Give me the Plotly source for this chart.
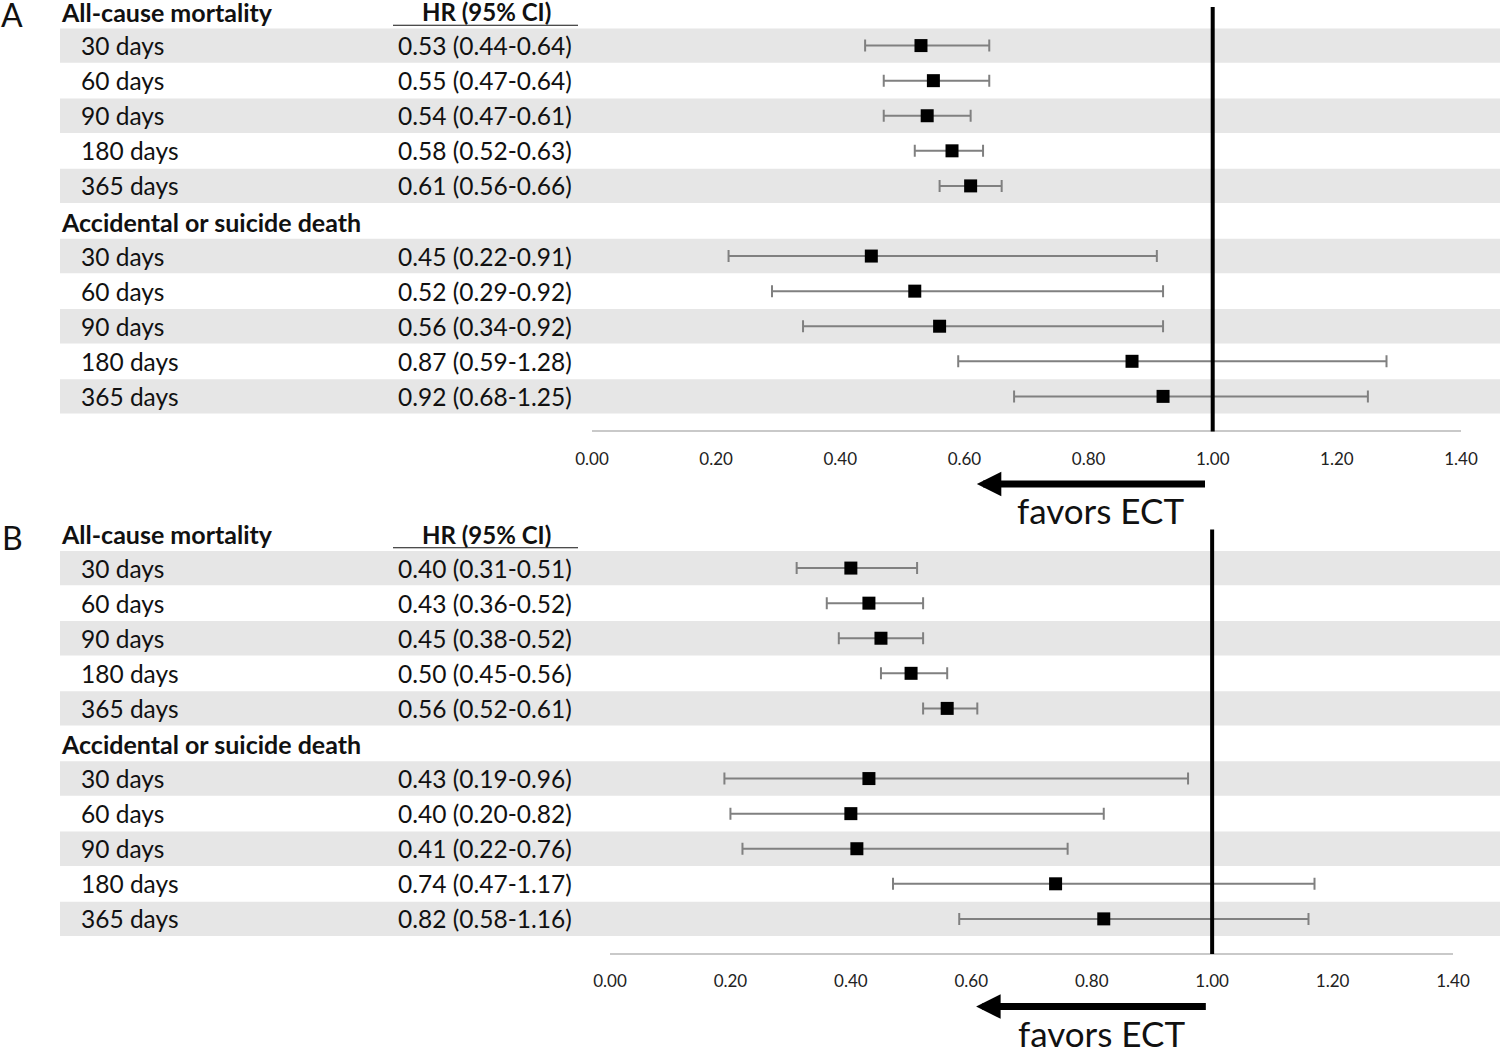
import plotly.graph_objects as go

# ---------------- data ----------------
periods = ["30 days", "60 days", "90 days", "180 days", "365 days"]
groups = ["All-cause mortality", "Accidental or suicide death"]
x_ticks = [0.0, 0.2, 0.4, 0.6, 0.8, 1.0, 1.2, 1.4]

a_allcause_hr = [0.53, 0.55, 0.54, 0.58, 0.61]
a_allcause_lo = [0.44, 0.47, 0.47, 0.52, 0.56]
a_allcause_hi = [0.64, 0.64, 0.61, 0.63, 0.66]
a_accident_hr = [0.45, 0.52, 0.56, 0.87, 0.92]
a_accident_lo = [0.22, 0.29, 0.34, 0.59, 0.68]
a_accident_hi = [0.91, 0.92, 0.92, 1.28, 1.25]

b_allcause_hr = [0.40, 0.43, 0.45, 0.50, 0.56]
b_allcause_lo = [0.31, 0.36, 0.38, 0.45, 0.52]
b_allcause_hi = [0.51, 0.52, 0.52, 0.56, 0.61]
b_accident_hr = [0.43, 0.40, 0.41, 0.74, 0.82]
b_accident_lo = [0.19, 0.20, 0.22, 0.47, 0.58]
b_accident_hi = [0.96, 0.82, 0.76, 1.17, 1.16]

# ---------------- layout constants ----------------
W, H = 1500, 1047
FONT = "Lato"
TXT = "#111111"
BAND = "#e6e6e6"
ROW_H = 35.08

panels = [
    dict(name="A", yref="y", xref="x", top=10.5, x0=592, x1=1461,
         hr=[a_allcause_hr, a_accident_hr], lo=[a_allcause_lo, a_accident_lo],
         hi=[a_allcause_hi, a_accident_hi]),
    dict(name="B", yref="y2", xref="x2", top=533.0, x0=610, x1=1453,
         hr=[b_allcause_hr, b_accident_hr], lo=[b_allcause_lo, b_accident_lo],
         hi=[b_allcause_hi, b_accident_hi]),
]

fig = go.Figure()
shapes = []
annotations = []

for p_i, p in enumerate(panels):
    yaxis_name = "yaxis" if p_i == 0 else "yaxis2"
    xaxis_name = "xaxis" if p_i == 0 else "xaxis2"
    top = p["top"]
    y_lo = -top / ROW_H
    y_hi = (H - top) / ROW_H
    axis_row = 12
    axis_pos = 1 - (top + ROW_H * axis_row) / H

    fig.update_layout(**{
        yaxis_name: dict(domain=[0, 1], range=[y_hi, y_lo], visible=False,
                         fixedrange=True, automargin=False),
        xaxis_name: dict(domain=[p["x0"] / W, p["x1"] / W], range=[0, 1.4],
                         anchor="free", position=axis_pos, automargin=False,
                         showline=True, linecolor="#c9c9c9", linewidth=1.5,
                         showgrid=False, zeroline=False,
                         tickvals=x_ticks, tickformat=".2f",
                         ticks="", ticklabelstandoff=12,
                         tickfont=dict(family=FONT, size=17, color="#222222")),
    })

    rows_y, xs, plus, minus = [], [], [], []
    for g_i, g in enumerate(groups):
        header_row = g_i * 6
        annotations.append(dict(
            x=59 / W, xref="paper", y=header_row, yref=p["yref"],
            text="<b>" + g + "</b>", showarrow=False, xanchor="left",
            yanchor="middle", yshift=-1,
            font=dict(family=FONT, size=25, color=TXT)))
        for k, per in enumerate(periods):
            r = header_row + 1 + k
            hr = p["hr"][g_i][k]
            lo = p["lo"][g_i][k]
            hi = p["hi"][g_i][k]
            rows_y.append(r)
            xs.append(hr)
            plus.append(hi - hr)
            minus.append(hr - lo)
            if k % 2 == 0:
                shapes.append(dict(type="rect", xref="paper", yref=p["yref"],
                                   x0=60 / W, x1=1.0, y0=r - 0.49, y1=r + 0.49,
                                   fillcolor=BAND, line=dict(width=0),
                                   layer="below"))
            annotations.append(dict(
                x=79 / W, xref="paper", y=r, yref=p["yref"], text=per,
                showarrow=False, xanchor="left", yanchor="middle",
                font=dict(family=FONT, size=24.5, color=TXT)))
            annotations.append(dict(
                x=396 / W, xref="paper", y=r, yref=p["yref"],
                text=f"{hr:.2f} ({lo:.2f}-{hi:.2f})",
                showarrow=False, xanchor="left", yanchor="middle",
                font=dict(family=FONT, size=24.5, color=TXT)))

    annotations.append(dict(
        x=486 / W, xref="paper", y=0, yref=p["yref"], text="<b>HR (95% CI)</b>",
        showarrow=False, xanchor="center", yanchor="middle", yshift=-1,
        font=dict(family=FONT, size=24, color=TXT)))
    shapes.append(dict(type="line", xref="paper", yref=p["yref"],
                       x0=393 / W, x1=578 / W, y0=0.42, y1=0.42,
                       line=dict(color="#111111", width=1.2)))

    annotations.append(dict(
        x=12 / W, xref="paper", y=0.12, yref=p["yref"], text=p["name"],
        showarrow=False, xanchor="center", yanchor="middle",
        font=dict(family=FONT, size=32, color=TXT)))

    shapes.append(dict(type="line", xref=p["xref"], yref=p["yref"],
                       x0=1.0, x1=1.0, y0=-0.1, y1=axis_row,
                       line=dict(color="black", width=4), layer="above"))

    annotations.append(dict(
        x=0.62 if p_i == 0 else 0.608, y=13.5, xref=p["xref"], yref=p["yref"],
        ax=0.99 if p_i == 0 else 0.992, ay=13.5,
        axref=p["xref"], ayref=p["yref"], text="", showarrow=True,
        arrowhead=2, arrowwidth=7, arrowsize=0.7, arrowcolor="black",
        standoff=0, startstandoff=0))
    annotations.append(dict(
        x=0.82 if p_i == 0 else 0.817, y=14.25, xref=p["xref"], yref=p["yref"],
        text="favors ECT", showarrow=False, xanchor="center", yanchor="middle",
        font=dict(family=FONT, size=35, color=TXT)))

    fig.add_trace(go.Scatter(
        x=xs, y=rows_y, xaxis=p["xref"], yaxis=p["yref"], mode="markers",
        marker=dict(symbol="square", size=13, color="black",
                    line=dict(width=0)),
        error_x=dict(type="data", symmetric=False, array=plus,
                     arrayminus=minus, color="#808080", thickness=2, width=6),
        showlegend=False, hoverinfo="skip"))

fig.update_layout(
    width=W, height=H,
    margin=dict(l=0, r=0, t=0, b=0, pad=0, autoexpand=False),
    paper_bgcolor="white", plot_bgcolor="rgba(0,0,0,0)",
    shapes=shapes, annotations=annotations, showlegend=False,
)

fig.write_html(
    "out.html",
    config={"displayModeBar": False},
    post_script="document.body.style.margin='0';"
                "document.body.style.overflow='hidden';",
)
